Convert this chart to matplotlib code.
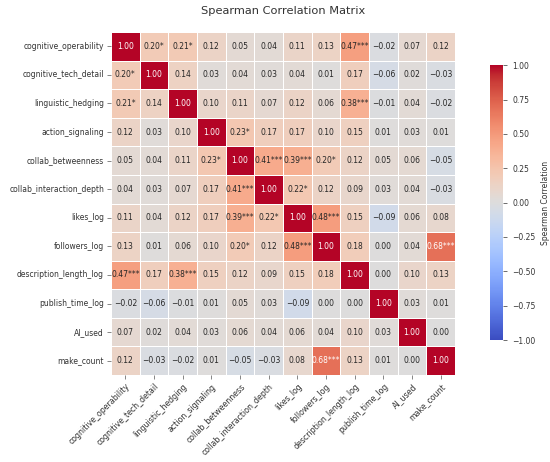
import numpy as np
import matplotlib
matplotlib.use("Agg")
import matplotlib.pyplot as plt
import seaborn as sns

# variable names (rows/cols of the matrix)
variables = [
    "cognitive_operability", "cognitive_tech_detail", "linguistic_hedging",
    "action_signaling", "collab_betweenness", "collab_interaction_depth",
    "likes_log", "followers_log", "description_length_log",
    "publish_time_log", "AI_used", "make_count",
]

# Spearman coefficients
rho = [
    [1.00, 0.20, 0.21, 0.12, 0.05, 0.04, 0.11, 0.13, 0.47, -0.02, 0.07, 0.12],
    [0.20, 1.00, 0.14, 0.03, 0.04, 0.03, 0.04, 0.01, 0.17, -0.06, 0.02, -0.03],
    [0.21, 0.14, 1.00, 0.10, 0.11, 0.07, 0.12, 0.06, 0.38, -0.01, 0.04, -0.02],
    [0.12, 0.03, 0.10, 1.00, 0.23, 0.17, 0.17, 0.10, 0.15, 0.01, 0.03, 0.01],
    [0.05, 0.04, 0.11, 0.23, 1.00, 0.41, 0.39, 0.20, 0.12, 0.05, 0.06, -0.05],
    [0.04, 0.03, 0.07, 0.17, 0.41, 1.00, 0.22, 0.12, 0.09, 0.03, 0.04, -0.03],
    [0.11, 0.04, 0.12, 0.17, 0.39, 0.22, 1.00, 0.48, 0.15, -0.09, 0.06, 0.08],
    [0.13, 0.01, 0.06, 0.10, 0.20, 0.12, 0.48, 1.00, 0.18, 0.00, 0.04, 0.68],
    [0.47, 0.17, 0.38, 0.15, 0.12, 0.09, 0.15, 0.18, 1.00, 0.00, 0.10, 0.13],
    [-0.02, -0.06, -0.01, 0.01, 0.05, 0.03, -0.09, 0.00, 0.00, 1.00, 0.03, 0.01],
    [0.07, 0.02, 0.04, 0.03, 0.06, 0.04, 0.06, 0.04, 0.10, 0.03, 1.00, 0.00],
    [0.12, -0.03, -0.02, 0.01, -0.05, -0.03, 0.08, 0.68, 0.13, 0.01, 0.00, 1.00],
]

# significance stars per pair (upper triangle, mirrored below)
sig_pairs = {
    (0, 1): "*", (0, 2): "*", (0, 8): "***",
    (2, 8): "***",
    (3, 4): "*",
    (4, 5): "***", (4, 6): "***", (4, 7): "*",
    (5, 6): "*",
    (6, 7): "***",
    (7, 11): "***",
}

matriz = np.array(rho)
n = len(variables)

# texto das células
rotulos = np.empty((n, n), dtype=object)
for i in range(n):
    for j in range(n):
        estrela = sig_pairs.get((min(i, j), max(i, j)), "")
        rotulos[i, j] = f"{matriz[i, j]:.2f}{estrela}".replace("-", "\u2212")

fig = plt.figure(figsize=(5.5, 4.62), dpi=100)
ax = fig.add_axes([0.2018, 0.1883, 0.6255, 0.7424])
cax = fig.add_axes([0.891, 0.264, 0.024, 0.595])

sns.heatmap(matriz, ax=ax, cbar_ax=cax, annot=rotulos, fmt="",
            cmap="coolwarm", vmin=-1, vmax=1, center=0,
            linewidths=0.5, linecolor="white",
            annot_kws={"fontsize": 5.5},
            xticklabels=variables, yticklabels=variables)

ax.set_title("Spearman Correlation Matrix", fontsize=8.2, color="#333333", pad=13)
ax.set_xticklabels(variables, rotation=45, ha="right", rotation_mode="anchor",
                   fontsize=5.7)
ax.set_yticklabels(variables, rotation=0, fontsize=5.5)
ax.tick_params(length=3, width=0.5, colors="#555555", pad=2)
for lbl in ax.get_xticklabels() + ax.get_yticklabels():
    lbl.set_color("#333333")

cbar = ax.collections[0].colorbar
ticks_cb = np.arange(-1, 1.01, 0.25)
cbar.set_ticks(ticks_cb)
cbar.ax.set_yticklabels([f"{t:.2f}".replace("-", "\u2212") for t in ticks_cb])
cbar.ax.tick_params(labelsize=5.5, length=3, width=0.5, colors="#333333")
cbar.set_label("Spearman Correlation", fontsize=5.5, color="#333333")
cbar.outline.set_visible(False)

fig.savefig("out.png", dpi=100)
